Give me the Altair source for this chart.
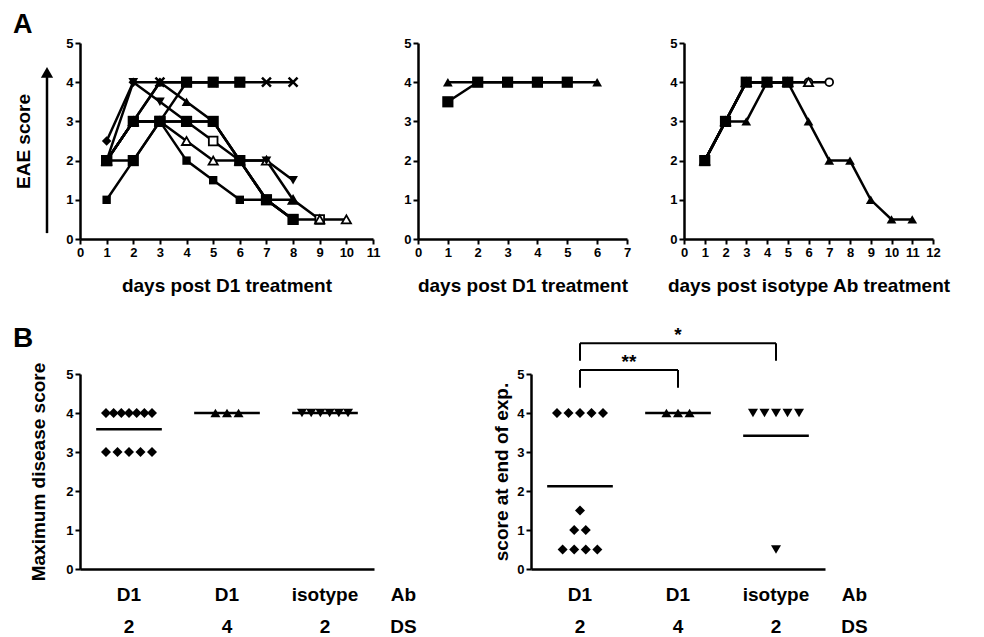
import altair as alt
import pandas as pd

FONT = "Liberation Sans"

# ---------------- Panel A : EAE score per day (individual mice) ----------------
# A1 : days post D1 treatment (DS 2)
a1_diamond_days = [1, 2, 3, 4, 5]
a1_diamond_score = [2.5, 4, 4, 4, 4]
a1_cross_days = [1, 2, 3, 4, 5, 6, 7, 8]
a1_cross_score = [2, 3, 4, 4, 4, 4, 4, 4]
a1_tridown_days = [1, 2, 3, 4, 5, 6, 7, 8]
a1_tridown_score = [2, 4, 3.5, 3, 3, 2, 2, 1.5]
a1_triup_days = [1, 2, 3, 4, 5, 6, 7, 8]
a1_triup_score = [2, 3, 4, 3.5, 3, 2, 1, 1]
a1_opentri_days = [1, 2, 3, 4, 5, 6, 7, 8, 9, 10]
a1_opentri_score = [2, 3, 3, 2.5, 2, 2, 2, 1, 0.5, 0.5]
a1_opensq_days = [1, 2, 3, 4, 5, 6, 7, 8, 9]
a1_opensq_score = [2, 3, 3, 3, 2.5, 2, 1, 0.5, 0.5]
a1_sq_days = [1, 2, 3, 4, 5, 6, 7, 8]
a1_sq_score = [1, 2, 3, 2, 1.5, 1, 1, 0.5]
a1_bigsq1_days = [1, 2, 3, 4, 5, 6, 7, 8]
a1_bigsq1_score = [2, 3, 3, 3, 3, 2, 1, 0.5]
a1_bigsq2_days = [1, 2, 3, 4, 5, 6]
a1_bigsq2_score = [2, 2, 3, 4, 4, 4]

# A2 : days post D1 treatment (DS 4)
a2_triup_days = [1, 2, 3, 4, 5, 6]
a2_triup_score = [4, 4, 4, 4, 4, 4]
a2_sq_days = [1, 2, 3, 4, 5]
a2_sq_score = [3.5, 4, 4, 4, 4]

# A3 : days post isotype Ab treatment
a3_triup_days = [1, 2, 3, 4, 5, 6, 7, 8, 9, 10, 11]
a3_triup_score = [2, 3, 3, 4, 4, 3, 2, 2, 1, 0.5, 0.5]
a3_sq_days = [1, 2, 3, 4, 5]
a3_sq_score = [2, 3, 4, 4, 4]
a3_opentri_days = [1, 2, 3, 4, 5, 6]
a3_opentri_score = [2, 3, 4, 4, 4, 4]
a3_cross_days = [1, 2, 3, 4, 5]
a3_cross_score = [2, 3, 4, 4, 4]
a3_circle_days = [1, 2, 3, 4, 5, 6, 7]
a3_circle_score = [2, 3, 4, 4, 4, 4, 4]

# ---------------- Panel B : scores per group ----------------
b_ab_labels = ["D1", "D1", "isotype"]
b_ds_labels = ["2", "4", "2"]
b_group_shapes = ["diamond", "triangle-up", "triangle-down"]

b1_d1_ds2 = [4, 4, 4, 4, 4, 4, 4, 3, 3, 3, 3, 3]
b1_d1_ds4 = [4, 4, 4]
b1_iso_ds2 = [4, 4, 4, 4, 4, 4]

b2_d1_ds2 = [4, 4, 4, 4, 4, 1.5, 1, 1, 0.5, 0.5, 0.5, 0.5]
b2_d1_ds4 = [4, 4, 4]
b2_iso_ds2 = [4, 4, 4, 4, 4, 0.5]

b2_comparisons = [(0, 1, "**"), (0, 2, "*")]

# ---------------- styles ----------------
CROSS = "M-1,-1L1,1M-1,1L1,-1"
STY = {
    "diamond": ("diamond", "filled", 90),
    "cross": (CROSS, "cross", 80),
    "tridown": ("triangle-down", "filled", 95),
    "triup": ("triangle-up", "filled", 95),
    "opentri": ("triangle-up", "open", 85),
    "opensq": ("square", "open", 75),
    "sq": ("square", "filled", 70),
    "bigsq": ("square", "filled", 125),
    "circle": ("circle", "open", 60),
}


def build(series):
    frames = []
    for name, style, days, score in series:
        shp, kind, size = STY[style]
        frames.append(pd.DataFrame({"series": name, "day": days, "score": score,
                                    "shape": shp, "kind": kind, "size": size}))
    return pd.concat(frames, ignore_index=True)


a1_df = build([
    ("b", "opensq", a1_opensq_days, a1_opensq_score),
    ("a", "opentri", a1_opentri_days, a1_opentri_score),
    ("c", "triup", a1_triup_days, a1_triup_score),
    ("d", "tridown", a1_tridown_days, a1_tridown_score),
    ("e", "sq", a1_sq_days, a1_sq_score),
    ("f", "bigsq", a1_bigsq1_days, a1_bigsq1_score),
    ("i", "bigsq", a1_bigsq2_days, a1_bigsq2_score),
    ("g", "diamond", a1_diamond_days, a1_diamond_score),
    ("h", "cross", a1_cross_days, a1_cross_score),
])
a2_df = build([
    ("a", "triup", a2_triup_days, a2_triup_score),
    ("b", "bigsq", a2_sq_days, a2_sq_score),
])
a3_df = build([
    ("a", "circle", a3_circle_days, a3_circle_score),
    ("e", "opentri", a3_opentri_days, a3_opentri_score),
    ("b", "triup", a3_triup_days, a3_triup_score),
    ("c", "bigsq", a3_sq_days, a3_sq_score),
    ("d", "cross", a3_cross_days, a3_cross_score),
])

YS = alt.Scale(domain=[0, 5], nice=False, zero=False)
TXT = dict(font=FONT, fontWeight="bold", color="black")
YVALS = [0, 1, 2, 3, 4, 5]


def a_panel(df, xmax, width, title, ytitle=None, ypad=32, xrange=None, letter=None):
    if xrange:
        xs = alt.Scale(domain=[0, xmax], nice=False, zero=False, range=xrange)
    else:
        xs = alt.Scale(domain=[0, xmax], nice=False, zero=False)
    xax = alt.Axis(values=list(range(xmax + 1)), title=title, titlePadding=17,
                   labelFlush=False, labelOverlap=False, grid=False)
    if ytitle:
        yax = alt.Axis(values=YVALS, title=ytitle, titlePadding=ypad,
                       labelFlush=False, grid=False)
    else:
        yax = alt.Axis(values=YVALS, title=None, labelFlush=False, grid=False)
    x = alt.X("day:Q", scale=xs, axis=xax)
    y = alt.Y("score:Q", scale=YS, axis=yax)
    base = alt.Chart(df)
    lines = base.mark_line(color="black", strokeWidth=2.5, clip=False).encode(
        x=x, y=y, detail="series:N")
    shape = alt.Shape("shape:N", scale=None)
    size = alt.Size("size:Q", scale=None)
    open_pts = base.transform_filter("datum.kind == 'open'").mark_point(
        filled=True, fill="white", stroke="black", strokeWidth=1.8, opacity=1, clip=False
    ).encode(x=x, y=y, shape=shape, size=size)
    fill_pts = base.transform_filter("datum.kind == 'filled'").mark_point(
        filled=True, color="black", opacity=1, clip=False
    ).encode(x=x, y=y, shape=shape, size=size)
    cross_pts = base.transform_filter("datum.kind == 'cross'").mark_point(
        filled=False, stroke="black", strokeWidth=2.5, opacity=1, clip=False
    ).encode(x=x, y=y, shape=shape, size=size)
    layers = [lines, open_pts, fill_pts, cross_pts]
    if letter:
        # upward arrow next to the y title, and the panel letter
        arr = alt.Chart(pd.DataFrame({"score": [0.15], "score2": [4.25]}))
        layers.append(arr.mark_rule(color="black", strokeWidth=2.5, clip=False).encode(
            x=alt.value(-33), y=alt.Y("score:Q", scale=YS, axis=yax), y2="score2:Q"))
        layers.append(arr.mark_point(shape="triangle-up", filled=True, color="black",
                                     size=150, opacity=1, clip=False).encode(
            x=alt.value(-33), y=alt.Y("score2:Q", scale=YS, axis=yax)))
        layers.append(alt.Chart(pd.DataFrame({"t": [letter]})).mark_text(
            fontSize=27, align="left", baseline="alphabetic", **TXT
        ).encode(x=alt.value(-67), y=alt.value(-10), text="t:N"))
    return alt.layer(*layers).properties(width=width, height=196)


A1 = a_panel(a1_df, 11, 293, "days post D1 treatment", ytitle="EAE score", ypad=32, letter="A")
A2 = a_panel(a2_df, 7, 221, "days post D1 treatment", xrange=[0, 209])
A3 = a_panel(a3_df, 12, 249, "days post isotype Ab treatment")


# ---------------- B panels ----------------
def b_points(groups):
    rows = []
    for gi, vals in enumerate(groups):
        s = pd.Series(vals)
        for v in sorted(set(vals), reverse=True):
            n = int((s == v).sum())
            step = 0.118 if n < 2 else min(0.118, 0.47 / (n - 1))
            for k in range(n):
                rows.append({"gi": gi, "value": v, "shape": b_group_shapes[gi],
                             "xpos": gi + 0.5 + (k - (n - 1) / 2) * step})
    return pd.DataFrame(rows)


XB = alt.Scale(domain=[0, 3], nice=False, zero=False)


def b_panel(groups, ytitle, ypad, letter=None, comparisons=()):
    df = b_points(groups)
    xax = alt.Axis(ticks=False, labels=False, title=None, domain=True, grid=False)
    yax = alt.Axis(values=YVALS, title=ytitle, titlePadding=ypad,
                   labelFlush=False, grid=False)
    rx = dict(scale=XB, axis=xax)
    ry = dict(scale=YS, axis=yax)
    base = alt.Chart(df)
    pts = base.mark_point(filled=True, color="black", opacity=1, size=100, clip=False).encode(
        x=alt.X("xpos:Q", **rx), y=alt.Y("value:Q", **ry),
        shape=alt.Shape("shape:N", scale=None))
    means = base.transform_aggregate(m="mean(value)", groupby=["gi"]).transform_calculate(
        x1="datum.gi + 0.5 - 0.335", x2="datum.gi + 0.5 + 0.335"
    ).mark_rule(color="black", strokeWidth=2.5, clip=False).encode(
        x=alt.X("x1:Q", **rx), x2="x2:Q", y=alt.Y("m:Q", **ry))
    lab = pd.DataFrame({"xc": [g + 0.5 for g in range(len(groups))] + [3.3],
                        "ab": b_ab_labels + ["Ab"], "ds": b_ds_labels + ["DS"]})
    ab_txt = alt.Chart(lab).mark_text(fontSize=19, baseline="middle", clip=False, **TXT).encode(
        x=alt.X("xc:Q", **rx), y=alt.value(221), text="ab:N")
    ds_txt = alt.Chart(lab).mark_text(fontSize=19, baseline="middle", clip=False, **TXT).encode(
        x=alt.X("xc:Q", **rx), y=alt.value(253), text="ds:N")
    layers = [pts, means, ab_txt, ds_txt]
    if comparisons:
        cdf = pd.DataFrame([{"x1": a + 0.5, "x2": b + 0.5, "xm": (a + b) / 2 + 0.5,
                             "top": 5.1 + lvl * 0.69, "bot": 5.1 + lvl * 0.69 - 0.45,
                             "ty": 5.1 + lvl * 0.69 + 0.06, "lab": s}
                            for lvl, (a, b, s) in enumerate(comparisons)])
        cb = alt.Chart(cdf)
        layers += [
            cb.mark_rule(color="black", strokeWidth=2, clip=False).encode(
                x=alt.X("x1:Q", **rx), x2="x2:Q", y=alt.Y("top:Q", **ry)),
            cb.mark_rule(color="black", strokeWidth=2, clip=False).encode(
                x=alt.X("x1:Q", **rx), y=alt.Y("bot:Q", **ry), y2="top:Q"),
            cb.mark_rule(color="black", strokeWidth=2, clip=False).encode(
                x=alt.X("x2:Q", **rx), y=alt.Y("bot:Q", **ry), y2="top:Q"),
            cb.mark_text(fontSize=19, baseline="alphabetic", clip=False, **TXT).encode(
                x=alt.X("xm:Q", **rx), y=alt.Y("ty:Q", **ry), text="lab:N"),
        ]
    if letter:
        layers.append(alt.Chart(pd.DataFrame({"t": [letter]})).mark_text(
            fontSize=28, align="left", baseline="alphabetic", **TXT
        ).encode(x=alt.value(-67), y=alt.value(-27), text="t:N"))
    return alt.layer(*layers).properties(width=294, height=195)


B1 = b_panel([b1_d1_ds2, b1_d1_ds4, b1_iso_ds2], "Maximum disease score", 17, letter="B")
B2 = b_panel([b2_d1_ds2, b2_d1_ds4, b2_iso_ds2], "score at end of exp.", 5,
             comparisons=b2_comparisons)

top = alt.hconcat(A1, A2, A3, spacing=45, bounds="flush")
bottom = alt.hconcat(B1, B2, spacing=157, bounds="flush")

chart = alt.vconcat(top, bottom, spacing=30, bounds="full").properties(
    padding={"left": 5, "top": 3, "right": 5, "bottom": 0}
).configure(font=FONT).configure_view(stroke=None).configure_axis(
    domainColor="black", domainWidth=2.5, tickColor="black", tickWidth=2, tickSize=5,
    labelColor="black", labelFont=FONT, labelFontSize=13, labelFontWeight="bold",
    labelPadding=2, titleColor="black", titleFont=FONT, titleFontSize=19,
    titleFontWeight="bold", grid=False)

chart.save("out.html", embed_options={"renderer": "svg", "actions": False})
